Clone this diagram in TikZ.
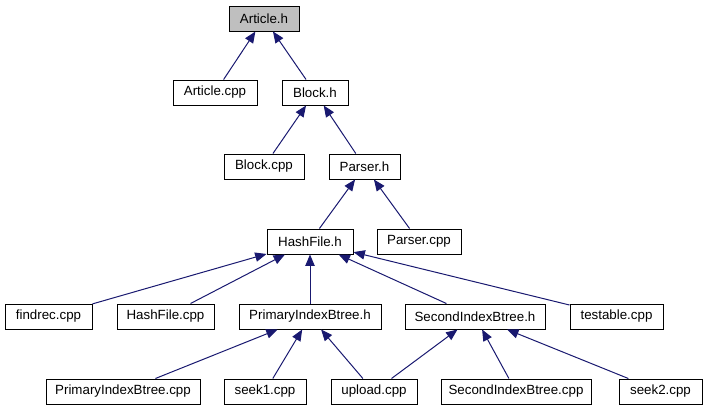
\documentclass[tikz,border=0pt]{standalone}
\usepackage{fontspec}
\setmainfont{Liberation Sans}
\usepackage{tikz}
\usetikzlibrary{arrows.meta}

\definecolor{edgeblue}{HTML}{191970}
\definecolor{headgray}{HTML}{BFBFBF}

\tikzset{
    filebox/.style={draw=black, line width=0.75pt, fill=white, inner sep=0pt,
        minimum height=18.75pt, minimum width=#1*0.75pt,
        font=\fontsize{10}{12}\selectfont},
    incl/.style={edgeblue, line width=0.75pt,
        {Triangle[length=8.5pt,width=7pt]}-}
}

\begin{document}
\begin{tikzpicture}[x=0.75pt,y=-0.75pt]
    \useasboundingbox (0,0) rectangle (707,411);
    % rows of the include graph
    \node[filebox=70, fill=headgray] (articleh) at (264,18.5) {Article.h};
    \node[filebox=84] (articlecpp) at (215,92.5) {Article.cpp};
    \node[filebox=66] (blockh) at (315,92.5) {Block.h};
    \node[filebox=80] (blockcpp) at (264,166.5) {Block.cpp};
    \node[filebox=71] (parserh) at (364.5,166.5) {Parser.h};
    \node[filebox=86] (hashfileh) at (310,241.5) {HashFile.h};
    \node[filebox=84] (parsercpp) at (419,241.5) {Parser.cpp};
    \node[filebox=87] (findrec) at (48.5,316.5) {findrec.cpp};
    \node[filebox=97] (hashfilecpp) at (165.5,316.5) {HashFile.cpp};
    \node[filebox=142] (primaryh) at (310,316.5) {PrimaryIndexBtree.h};
    \node[filebox=140] (secondh) at (475,316.5) {SecondIndexBtree.h};
    \node[filebox=93] (testable) at (616.5,316.5) {testable.cpp};
    \node[filebox=154] (primarycpp) at (123,391.5) {PrimaryIndexBtree.cpp};
    \node[filebox=82] (seekone) at (265,391.5) {seek1.cpp};
    \node[filebox=86] (upload) at (374,391.5) {upload.cpp};
    \node[filebox=150] (secondcpp) at (516,391.5) {SecondIndexBtree.cpp};
    \node[filebox=83] (seektwo) at (660.5,391.5) {seek2.cpp};
    % includes
    \draw[incl] (articleh) -- (articlecpp);
    \draw[incl] (articleh) -- (blockh);
    \draw[incl] (blockh) -- (blockcpp);
    \draw[incl] (blockh) -- (parserh);
    \draw[incl] (parserh) -- (hashfileh);
    \draw[incl] (parserh) -- (parsercpp);
    \draw[incl] (hashfileh) -- (findrec);
    \draw[incl] (hashfileh) -- (hashfilecpp);
    \draw[incl] (hashfileh) -- (primaryh);
    \draw[incl] (hashfileh) -- (secondh);
    \draw[incl] (hashfileh) -- (testable);
    \draw[incl] (primaryh) -- (primarycpp);
    \draw[incl] (primaryh) -- (seekone);
    \draw[incl] (primaryh) -- (upload);
    \draw[incl] (secondh) -- (upload);
    \draw[incl] (secondh) -- (secondcpp);
    \draw[incl] (secondh) -- (seektwo);
\end{tikzpicture}
\end{document}
